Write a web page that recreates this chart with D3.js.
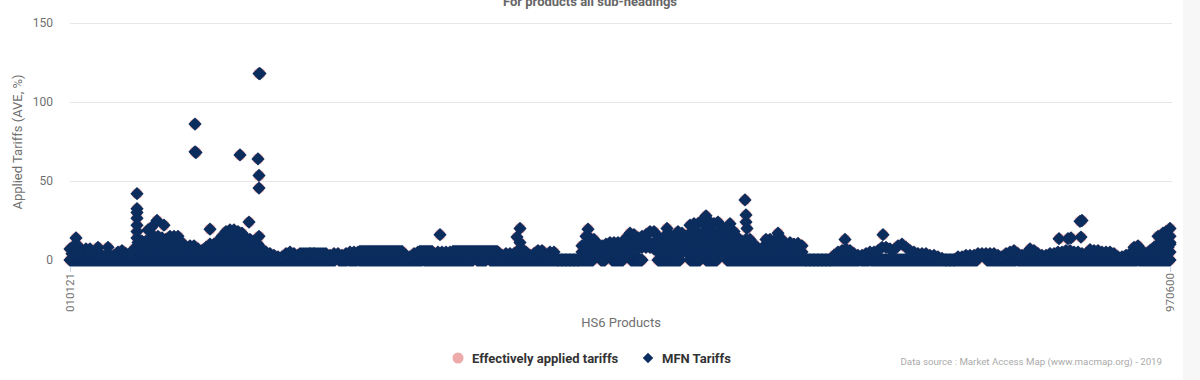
<!DOCTYPE html>
<html>
<head>
<meta charset="utf-8">
<script src="https://cdn.jsdelivr.net/npm/d3@7"></script>
<style>
body { margin: 0; background: #fff; overflow: hidden; }
text { font-family: Roboto, sans-serif; }
</style>
</head>
<body>
<div id="my_dataviz"></div>
<script>
// products are placed by their rank in the HS6 list, tariffs in %
var firstCode = "010121", lastCode = "970600";
var yTicks = [0, 50, 100, 150];
var legendLabels = ["Effectively applied tariffs", "MFN Tariffs"];

// highest tariff seen in each slice of 20 products
var ridgeValues = [
  7,9,9,6,7,7,5,3,
  3,3,3,3,5,6,4,3,
  7,11,12,12,13,15,15,14,
  13,15,15,15,11,8,9,9,
  7,6,8,10,10,12,15,18,
  19,19,18,17,14,13,12,10,
  7,5,4,3,2,2,4,5,
  4,3,3,3,4,4,3,3,
  4,3,4,4,3,4,5,5,
  5,5,4,5,5,5,5,5,
  5,5,5,5,3,2,4,5,
  5,5,5,4,5,5,5,5,
  5,5,5,5,5,5,5,5,
  5,5,5,5,3,4,4,4,
  6,7,5,3,4,6,6,3,
  5,5,0,0,0,0,0,0,
  9,15,14,13,10,9,10,11,
  11,11,10,14,17,16,14,15,
  16,18,18,15,11,16,16,14,
  18,17,15,22,23,23,25,28,
  24,23,24,21,20,23,18,14,
  12,13,13,10,7.5,7,13,13,
  12,17,13,9,11,10,10.5,9,
  0,0,0,0,0,0,0,3,
  5,6,7,6,4,3,3,4,
  5,5,6,8,8,7,6.5,9,
  10,8,6,5,4,4,4,3,
  3,2,1,0,0,0,2,2,
  3,3,3,4,4,4,4,4,
  3,2,4,5,6,4,3,4,
  7,6,4,3,3,4,4,5,
  5,6,6,5,5,4,4,6.5,
  6,6,5,5,5,4,2,2,
  3,4,8,9,6,4,6,8,
  9,9,10,11
];

// lower tariffs inside the two dense stretches, null = none at that level
var denseRanksA = d3.range(320, 960, 20);
var denseLowA = [5,5,6,6,5,5,6,5, 5,6,5,5,5,5,5,5, 5,4,5,5,5,6,5,5, 6,5,5,6,5,5,5,5];
var denseMidA = [null,null,null,null,10,10,10,10, 10,10,10,10,null,null,null,null, null,null,null,null,null,null,10,10, 10,10,10,10,10,10,null,null];
var denseTopA = [null,null,null,null,null,null,null,null, null,null,null,null,null,null,null,null, null,null,null,null,null,null,null,14, 15,15,14,13,null,null,null,null];

var denseRanksB = d3.range(2560, 3680, 20);
var denseLowB = [5,5,6,5,5,5,5,5, 5,5,5,5,5,6,7,8, 8,8,7,5,5,5,5,5, 5,5,5,6,6,6,5,5, 6,5,5,5,5,5,5,5, 5,5,5,5,5,5,5,5, 5,5,5,5,5,5,5,5];
var denseMidB = [null,10,10,10,null,null,null,null, null,null,null,10,11,11,10,10, 11,11,11,10,null,11,11,10, 11,11,10,11,11,11,11,11, 11,11,11,11,11,11,11,10, null,10,10,null,null,null,10,10, 10,11,10,null,null,null,null,null];
var denseTopB = [null,null,null,null,null,null,null,null, null,null,null,null,null,null,null,null, null,null,null,null,null,null,null,null, null,null,null,17,17,17,17,17, 17,17,17,17,17,17,null,null, null,null,null,null,null,null,null,null, null,null,null,null,null,null,null,null];
var denseCapB = [null,null,null,null,null,null,null,null, null,null,null,null,null,null,null,null, null,null,null,null,null,null,null,null, null,null,null,null,null,null,null,22, 21,null,null,null,null,null,null,null, null,null,null,null,null,null,null,null, null,null,null,null,null,null,null,null];

// single products standing out above the mass
var peakRanks = [30,30,140,190, 335,335,335,335,335,335,335, 435,410,390,470,
  625,625,630,700,850,895,945,945,945,940,950,945,
  1850,2250,2235,2250,2590,2985,
  3375,3380,3380,3385,3875,4065,
  4945,5005,4990,5055,5050,5060,5500,5480,5465,5440,5500,
  10,20,40, 5320,5340,5420,5440,5460,5480,5500,5440,5460,5480,5490,5500];
var peakValues = [14,10,8,8, 42,32.5,30,26.5,22,18,14, 25,21,19,22,
  86,68.5,68,19.5,66.5,24,15,45.5,53.5,64,118,118,
  16,20,14.5,11,19.5,20,
  38,28.5,24,20,13,16,
  13.5,14,13.5,14.5,24.5,25,20,18,17,15,15,
  4,4,4, 4,4,4,5,5,5,5,10,12,13,8,10];

// rank stretches where a product has a 0% tariff
var zeroRuns = [[0,1325],[1345,1385],[1395,1435],[1445,1760],[1770,2015],[2035,2080],[2100,2615],
  [2655,2675],[2710,2765],[2805,2860],[2940,3050],[3100,3150],[3180,3235],[3285,3945],
  [3955,3995],[4005,4535],[4585,4730],[4740,5335],[5345,5500]];

// stretches of products sitting on the same rate: from rank, to rank, tariff
var levelRuns = [[1150,1275,4],[1450,1665,5.4],[1750,1815,5.4],[1915,2135,5.4]];

var svg = d3.select("#my_dataviz")
  .append("svg")
  .attr("width", 1200)
  .attr("height", 380)
  .style("display", "block");

svg.append("rect")
  .attr("x", 1183).attr("y", 0)
  .attr("width", 17).attr("height", 380)
  .attr("fill", "#f7f7f7");

var x = d3.scaleLinear().domain([0, 5500]).range([70, 1170]);
var y = d3.scaleLinear().domain([0, 150]).range([260, 23]);

// y axis with the light grid lines
var yAxis = svg.append("g")
  .attr("transform", "translate(70,0)")
  .call(d3.axisLeft(y).tickValues(yTicks).tickSize(-1102).tickPadding(17).tickFormat(d3.format("d")));
yAxis.select(".domain").remove();
yAxis.selectAll("line").attr("stroke", "#e6e6e6");
yAxis.selectAll("text").attr("fill", "#707070").style("font-size", "12px");

var xAxis = svg.append("g")
  .attr("transform", "translate(0,267)")
  .call(d3.axisBottom(x).tickValues([0, 5500]).tickSize(5).tickFormat(function(d) { return d == 0 ? firstCode : lastCode }));
xAxis.select(".domain").remove();
xAxis.selectAll("line").attr("stroke", "#ccd6eb");
xAxis.selectAll("text")
  .attr("fill", "#707070")
  .style("font-size", "11.6px")
  .attr("text-anchor", "end")
  .attr("transform", "rotate(-90)")
  .attr("x", -6)
  .attr("y", -1)
  .attr("dy", "0.35em");

// all products, zero rates first
var points = [];
zeroRuns.forEach(function(run) {
  d3.range(run[0], run[1] + 1, 5).forEach(function(r) { points.push({rank: r, value: 0}) });
});
levelRuns.forEach(function(run) {
  d3.range(run[0], run[1] + 1, 10).forEach(function(r) { points.push({rank: r, value: run[2]}) });
});
function addLayer(ranks, values) {
  values.forEach(function(v, i) {
    if (v !== null) points.push({rank: ranks[i], value: v});
  });
}
addLayer(denseRanksA, denseLowA);
addLayer(denseRanksA, denseMidA);
addLayer(denseRanksA, denseTopA);
addLayer(denseRanksB, denseLowB);
addLayer(denseRanksB, denseMidB);
addLayer(denseRanksB, denseTopB);
addLayer(denseRanksB, denseCapB);
addLayer(d3.range(0, 5510, 20), ridgeValues);
addLayer(peakRanks, peakValues);

var pink = "#eea9a9", navy = "#0b2d5e";

svg.append("g")
  .selectAll("circle")
  .data(points)
  .enter()
  .append("circle")
    .attr("cx", function(d) { return x(d.rank) })
    .attr("cy", function(d) { return y(d.value) })
    .attr("r", 5.6)
    .attr("fill", pink);

var diamond = d3.symbol().type(d3.symbolDiamond2).size(112);

svg.append("g")
  .selectAll("path")
  .data(points)
  .enter()
  .append("path")
    .attr("d", diamond)
    .attr("transform", function(d) { return "translate(" + x(d.rank) + "," + y(d.value) + ")" })
    .attr("fill", navy);

// titles
svg.append("text")
  .attr("x", 590).attr("y", 6)
  .attr("text-anchor", "middle")
  .attr("fill", "#666")
  .style("font-size", "13px")
  .style("font-weight", 700)
  .text("For products all sub-headings");

svg.append("text")
  .attr("transform", "translate(22,142) rotate(-90)")
  .attr("text-anchor", "middle")
  .attr("fill", "#707070")
  .style("font-size", "13px")
  .text("Applied Tariffs (AVE, %)");

svg.append("text")
  .attr("x", 621).attr("y", 327)
  .attr("text-anchor", "middle")
  .attr("fill", "#707070")
  .style("font-size", "13px")
  .text("HS6 Products");

// legend
svg.append("circle")
  .attr("cx", 458).attr("cy", 358).attr("r", 5.5)
  .attr("fill", pink);
svg.append("path")
  .attr("d", d3.symbol().type(d3.symbolDiamond2).size(70))
  .attr("transform", "translate(648,358)")
  .attr("fill", navy);

svg.append("text")
  .attr("x", 472).attr("y", 363)
  .attr("fill", "#333")
  .style("font-size", "13px")
  .style("font-weight", 700)
  .text(legendLabels[0]);
svg.append("text")
  .attr("x", 662).attr("y", 363)
  .attr("fill", "#333")
  .style("font-size", "13px")
  .style("font-weight", 700)
  .text(legendLabels[1]);

svg.append("text")
  .attr("x", 1162).attr("y", 365)
  .attr("text-anchor", "end")
  .attr("fill", "#aaa")
  .style("font-size", "9.7px")
  .text("Data source : Market Access Map (www.macmap.org) - 2019");
</script>
</body>
</html>
